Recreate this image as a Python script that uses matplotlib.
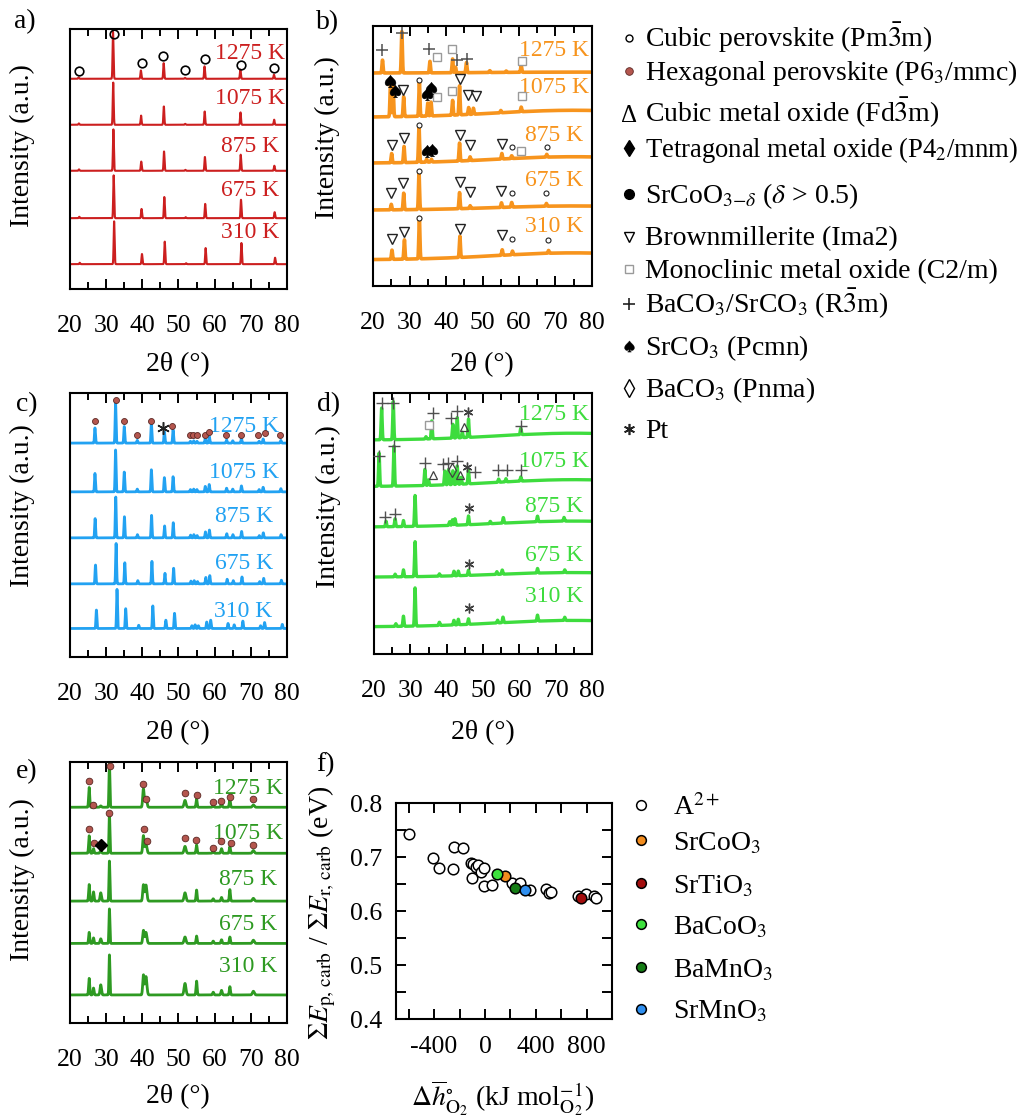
import numpy as np
import matplotlib
matplotlib.use("Agg")
import matplotlib.pyplot as plt
from matplotlib.ticker import MultipleLocator

plt.rcParams["font.family"] = ["Liberation Serif", "DejaVu Sans"]
plt.rcParams["mathtext.fontset"] = "stix"
plt.rcParams["axes.unicode_minus"] = False

W, H = 1030, 1118
UNIT_PX = 46.0
TWO_THETA = np.linspace(20, 80, 3001)

TEMPS = ["310 K", "675 K", "875 K", "1075 K", "1275 K"]

# ---------------- (a) ----------------
A_POS = [22.4, 31.9, 39.6, 45.9, 51.8, 57.2, 67.1, 76.4]
A_SHIFT = [0.30, 0.18, 0.10, 0.05, 0.00]
A_HT = {
    "310 K": [0.03, 0.93, 0.22, 0.49, 0.02, 0.35, 0.46, 0.14],
    "675 K": [0.03, 0.93, 0.20, 0.46, 0.02, 0.31, 0.40, 0.13],
    "875 K": [0.03, 0.90, 0.20, 0.42, 0.02, 0.30, 0.35, 0.11],
    "1075 K": [0.03, 0.92, 0.20, 0.40, 0.02, 0.29, 0.27, 0.11],
    "1275 K": [0.03, 1.02, 0.18, 0.34, 0.02, 0.27, 0.20, 0.09],
}
A_BASE = [0.54, 1.54, 2.57, 3.57, 4.57]
A_LBL_Y = [1.22, 2.15, 3.09, 4.15, 5.13]
A_CUBIC_X = [22.5, 32.2, 39.8, 45.8, 51.8, 57.3, 67.2, 76.3]
A_CUBIC_Y = [4.74, 5.54, 4.92, 5.07, 4.76, 5.00, 4.87, 4.81]

# ---------------- (b) ----------------
B_PEAKS = {
    "310 K": ([25.2, 28.6, 32.7, 43.8, 55.4, 58.2, 68.1],
              [0.20, 0.42, 0.90, 0.46, 0.12, 0.08, 0.06]),
    "675 K": ([25.0, 28.4, 32.6, 43.7, 46.6, 55.2, 58.0, 67.5],
              [0.12, 0.36, 0.80, 0.35, 0.06, 0.10, 0.10, 0.06]),
    "875 K": ([25.1, 28.5, 32.6, 34.7, 36.0, 43.7, 46.6, 55.3, 58.0, 67.6],
              [0.20, 0.35, 0.79, 0.06, 0.06, 0.39, 0.08, 0.12, 0.06, 0.06]),
    "1075 K": ([24.8, 25.5, 28.4, 32.7, 35.0, 35.9, 41.8, 43.7, 46.2, 47.5, 55.0, 60.6],
               [0.77, 0.68, 0.43, 0.76, 0.28, 0.30, 0.32, 0.63, 0.15, 0.13, 0.05, 0.10]),
    "1275 K": ([22.6, 27.9, 35.6, 41.8, 42.6, 45.6, 52.0, 56.5, 60.6],
               [0.28, 0.90, 0.25, 0.30, 0.12, 0.22, 0.04, 0.03, 0.15]),
}
B_BASE = [0.57, 1.65, 2.67, 3.67, 4.63]
B_HUMP = [0.15, 0.09, 0.14, 0.15, 0.02]
B_LBL_Y = [1.29, 2.30, 3.28, 4.32, 5.13]
B_TRI_X = [25.1, 28.5, 43.8, 55.3, 24.8, 28.3, 43.7, 46.6, 55.1,
           25.1, 28.5, 43.7, 46.6, 55.3, 28.3, 43.7, 46.1, 48.2]
B_TRI_Y = [1.02, 1.18, 1.25, 1.11, 2.03, 2.25, 2.27, 2.05, 2.07,
           3.07, 3.21, 3.28, 3.07, 3.09, 4.26, 4.49, 4.15, 4.13]
B_CIRC_X = [32.6, 58.2, 68.0, 32.6, 58.0, 67.4, 32.6, 58.0, 67.6, 32.7]
B_CIRC_Y = [1.47, 1.02, 1.00, 2.50, 2.03, 2.02, 3.50, 3.03, 3.03, 4.48]
B_SPADE_X = [34.7, 36.3, 24.7, 26.0, 34.7, 35.9]
B_SPADE_Y = [2.94, 2.96, 4.46, 4.24, 4.17, 4.30]
B_SQ_X = [60.5, 37.4, 41.6, 60.7, 37.4, 41.6, 60.7]
B_SQ_Y = [2.94, 4.10, 4.24, 4.12, 4.97, 5.15, 4.90]
B_PLUS_X = [22.6, 27.9, 35.4, 43.1, 45.7]
B_PLUS_Y = [5.12, 5.51, 5.15, 4.91, 4.93]

# ---------------- (c) ----------------
C_POS = [26.9, 32.6, 35.0, 38.6, 42.5, 46.1, 48.5, 53.3, 54.2, 55.1,
         57.4, 58.5, 63.3, 65.0, 67.4, 72.3, 73.4, 78.3]
C_SHIFT = [0.40, 0.15, 0.05, 0.00, 0.00]
C_HT = {
    "310 K": [0.40, 0.85, 0.43, 0.07, 0.49, 0.18, 0.33, 0.06, 0.08, 0.06,
              0.14, 0.18, 0.11, 0.08, 0.16, 0.06, 0.13, 0.09],
    "675 K": [0.41, 0.88, 0.46, 0.07, 0.49, 0.23, 0.34, 0.06, 0.07, 0.05,
              0.14, 0.18, 0.10, 0.07, 0.15, 0.05, 0.12, 0.08],
    "875 K": [0.42, 0.89, 0.46, 0.07, 0.49, 0.26, 0.33, 0.06, 0.07, 0.05,
              0.13, 0.17, 0.09, 0.07, 0.14, 0.05, 0.11, 0.07],
    "1075 K": [0.40, 0.91, 0.43, 0.06, 0.48, 0.31, 0.33, 0.05, 0.06, 0.05,
               0.12, 0.16, 0.08, 0.06, 0.13, 0.05, 0.10, 0.07],
    "1275 K": [0.33, 0.87, 0.36, 0.06, 0.43, 0.25, 0.29, 0.04, 0.05, 0.04,
               0.10, 0.15, 0.07, 0.05, 0.10, 0.04, 0.09, 0.06],
}
C_BASE = [0.62, 1.59, 2.59, 3.59, 4.65]
C_LBL_Y = [0.98, 2.04, 3.05, 4.01, 5.01]
C_HEX_X = [26.9, 32.6, 35.0, 38.6, 42.3, 48.3, 53.2, 54.1, 55.0, 57.3,
           58.5, 63.1, 67.2, 72.1, 73.9, 78.2]
C_HEX_Y = [5.12, 5.59, 5.12, 4.83, 5.12, 5.03, 4.83, 4.83, 4.83, 4.83,
           4.90, 4.83, 4.83, 4.83, 4.86, 4.83]
C_PT_X = [45.8]
C_PT_Y = [4.97]

# ---------------- (d) ----------------
D_PEAKS = {
    "310 K": ([26.0, 28.1, 31.3, 38.0, 42.0, 43.2, 46.0, 54.0, 55.5, 65.0, 72.5],
              [0.06, 0.22, 0.83, 0.07, 0.10, 0.12, 0.12, 0.06, 0.12, 0.13, 0.07]),
    "675 K": ([25.8, 28.1, 31.3, 38.0, 42.0, 43.2, 46.0, 53.8, 55.3, 65.0, 72.5],
              [0.06, 0.15, 0.76, 0.05, 0.10, 0.10, 0.11, 0.06, 0.09, 0.10, 0.06]),
    "875 K": ([23.3, 25.8, 28.1, 31.3, 40.8, 41.6, 42.3, 46.0, 52.0, 55.6, 65.0, 72.3],
              [0.12, 0.17, 0.13, 0.67, 0.08, 0.12, 0.14, 0.19, 0.05, 0.12, 0.12, 0.08]),
    "1075 K": ([21.4, 25.5, 34.0, 35.0, 39.5, 40.5, 41.7, 42.9, 44.0, 46.0, 54.3, 56.3, 60.4],
               [0.72, 0.87, 0.35, 0.12, 0.30, 0.33, 0.30, 0.40, 0.15, 0.30, 0.07, 0.07, 0.09]),
    "1275 K": ([22.1, 25.3, 34.3, 35.9, 41.7, 42.9, 44.3, 46.0, 60.4],
               [0.69, 0.83, 0.05, 0.39, 0.30, 0.44, 0.12, 0.40, 0.14]),
}
D_BASE = [0.59, 1.67, 2.76, 3.64, 4.65]
D_HUMP = [0.14, 0.10, 0.13, 0.15, 0.15]
D_LBL_Y = [1.25, 2.15, 3.20, 4.18, 5.20]
D_PLUS_X = [23.0, 25.8, 21.4, 25.5, 34.0, 39.1, 40.5, 42.9, 47.8, 54.2,
            56.5, 60.4, 22.1, 25.3, 36.2, 41.2, 42.9, 60.4]
D_PLUS_Y = [2.97, 3.04, 4.30, 4.52, 4.16, 4.13, 4.16, 4.20, 3.96, 4.01,
            4.01, 4.01, 5.45, 5.46, 5.23, 5.12, 5.29, 4.96]
D_TRI_X = [36.2, 43.7, 44.9]
D_TRI_Y = [3.89, 3.89, 4.94]
D_SQ_X = [35.2]
D_SQ_Y = [4.98]
D_LOZ_X = [41.4]
D_LOZ_Y = [4.01]
D_PT_X = [46.1, 46.1, 46.1, 45.7, 45.8]
D_PT_Y = [0.99, 1.96, 3.18, 4.07, 5.25]

# ---------------- (e) ----------------
E_POS = [25.3, 26.5, 28.5, 30.9, 40.3, 41.0, 51.8, 55.0, 59.6, 61.9, 64.2, 70.7]
E_FWHM = [0.35, 0.35, 0.45, 0.30, 0.45, 0.60, 0.60, 0.35, 0.40, 0.40, 0.35, 0.60]
E_HT = {
    "310 K": [0.36, 0.15, 0.22, 0.87, 0.43, 0.40, 0.25, 0.30, 0.06, 0.10, 0.18, 0.08],
    "675 K": [0.24, 0.12, 0.10, 0.75, 0.28, 0.24, 0.14, 0.16, 0.05, 0.08, 0.14, 0.07],
    "875 K": [0.36, 0.20, 0.18, 0.87, 0.35, 0.35, 0.18, 0.24, 0.05, 0.08, 0.25, 0.06],
    "1075 K": [0.38, 0.10, 0.06, 0.86, 0.38, 0.20, 0.15, 0.18, 0.05, 0.10, 0.15, 0.06],
    "1275 K": [0.43, 0.08, 0.03, 0.96, 0.40, 0.20, 0.15, 0.18, 0.05, 0.08, 0.18, 0.05],
}
E_BASE = [0.61, 1.73, 2.65, 3.69, 4.69]
E_LBL_Y = [1.22, 2.15, 3.12, 4.12, 5.10]
E_HEX_X = [25.3, 26.7, 30.9, 40.5, 41.2, 51.8, 54.8, 59.6, 61.7, 64.5, 70.7,
           25.3, 26.4, 31.1, 40.3, 41.0, 51.8, 55.0, 59.6, 61.7, 64.2, 70.5]
E_HEX_Y = [4.22, 3.91, 4.57, 4.22, 3.96, 4.02, 3.98, 3.81, 3.96, 3.91, 3.88,
           5.25, 4.75, 5.59, 5.19, 4.86, 5.01, 4.96, 4.80, 4.83, 4.91, 4.86]
E_TET_X = [28.6]
E_TET_Y = [3.87]

# ---------------- (f) ----------------
F_A2_X = [-600, -410, -358, -252, -240, -175, -112, -91, -70, -52, -30, -8,
          -104, -8, 52, 216, 278, 356, 481, 501, 519, 732, 797, 857, 875]
F_A2_Y = [0.742, 0.699, 0.679, 0.677, 0.718, 0.717, 0.689, 0.687, 0.682, 0.685,
          0.672, 0.679, 0.662, 0.646, 0.648, 0.652, 0.651, 0.639, 0.640, 0.633,
          0.635, 0.627, 0.631, 0.628, 0.625]
F_NAMES = ["SrCoO$_3$", "SrTiO$_3$", "BaCoO$_3$", "BaMnO$_3$", "SrMnO$_3$"]
F_X = [156, 753, 91, 237, 317]
F_Y = [0.665, 0.625, 0.668, 0.642, 0.638]
F_COLORS = ["#f28c1e", "#a30d0d", "#3ee23e", "#157d15", "#2f8ff0"]

HEX_FC, HEX_EC = "#b4564e", "#5a2723"

fig = plt.figure(figsize=(W / 100, H / 100), dpi=100)


def px_axes(l, t, r, b):
    return fig.add_axes([l / W, 1 - b / H, (r - l) / W, (b - t) / H])


def profile(pos, hts, fwhm):
    y = np.zeros_like(TWO_THETA)
    fw = np.broadcast_to(np.asarray(fwhm, float), (len(pos),))
    for p, h, w in zip(pos, hts, fw):
        y += h * np.exp(-4 * np.log(2) * ((TWO_THETA - p) / w) ** 2)
    return y


def hump(h):
    return h * np.exp(-4 * np.log(2) * ((TWO_THETA - 75.0) / 50.0) ** 2)


def xrd_axes(box):
    ax = px_axes(*box)
    ax.set_xlim(20, 80)
    ax.set_ylim(0, (box[3] - box[1]) / UNIT_PX)
    ax.xaxis.set_major_locator(MultipleLocator(10))
    ax.xaxis.set_minor_locator(MultipleLocator(5))
    ax.tick_params(axis="x", which="both", direction="in", top=True,
                   bottom=True, width=1.4, labelsize=18.5, pad=19)
    ax.tick_params(axis="x", which="major", length=7)
    ax.tick_params(axis="x", which="minor", length=5)
    ax.set_yticks([])
    for s in ax.spines.values():
        s.set_linewidth(1.5)
    return ax


def temp_labels(ax, xc, ys, color):
    for t, y in zip(TEMPS, ys):
        ax.text(xc, y, t, ha="center", va="center", fontsize=17, color=color)


def mk(ax, xs, ys, **kw):
    ax.plot(xs, ys, linestyle="none", clip_on=False, zorder=4, **kw)


# (a)
RED = "#cc1f1f"
ax = xrd_axes((70, 29, 287, 289))
for i, t in enumerate(TEMPS):
    pos = np.asarray(A_POS) + A_SHIFT[i]
    ax.plot(TWO_THETA, A_BASE[i] + profile(pos, A_HT[t], 0.30), color=RED, lw=1.5)
temp_labels(ax, 69.7, A_LBL_Y, RED)
mk(ax, A_CUBIC_X, A_CUBIC_Y, marker="o", ms=6.2, mfc="none", mec="k", mew=1.2)

# (b)
ORANGE = "#f7941d"
ax = xrd_axes((373, 26, 592, 286))
for i, t in enumerate(TEMPS):
    pos, hts = B_PEAKS[t]
    ax.plot(TWO_THETA, B_BASE[i] + hump(B_HUMP[i]) + profile(pos, hts, 0.35),
            color=ORANGE, lw=2.6)
temp_labels(ax, 69.7, B_LBL_Y, ORANGE)
mk(ax, B_TRI_X, B_TRI_Y, marker="v", ms=7.5, mfc="white", mec="#222222", mew=1.0)
mk(ax, B_CIRC_X, B_CIRC_Y, marker="o", ms=3.6, mfc="white", mec="#222222", mew=0.8)
mk(ax, B_SQ_X, B_SQ_Y, marker="s", ms=6.0, mfc="white", mec="#9a9a9a", mew=1.0)
mk(ax, B_PLUS_X, B_PLUS_Y, marker="+", ms=9, mec="#505050", mew=1.1)
mk(ax, B_SPADE_X, B_SPADE_Y, marker=r"$\spadesuit$", ms=9, mfc="k", mec="k", mew=0.3)

# (c)
BLUE = "#22a2f2"
ax = xrd_axes((70, 393, 287, 657))
for i, t in enumerate(TEMPS):
    pos = np.asarray(C_POS) + C_SHIFT[i]
    ax.plot(TWO_THETA, C_BASE[i] + profile(pos, C_HT[t], 0.30), color=BLUE, lw=2.0)
temp_labels(ax, 68.0, C_LBL_Y, BLUE)
mk(ax, C_HEX_X, C_HEX_Y, marker="o", ms=4.3, mfc=HEX_FC, mec=HEX_EC, mew=0.6)
mk(ax, C_PT_X, C_PT_Y, marker=(6, 2, 0), ms=9, mec="#222222", mew=1.1)

# (d)
LIME = "#3edc3e"
ax = xrd_axes((374, 393, 592, 654))
for i, t in enumerate(TEMPS):
    pos, hts = D_PEAKS[t]
    ax.plot(TWO_THETA, D_BASE[i] + hump(D_HUMP[i]) + profile(pos, hts, 0.35),
            color=LIME, lw=2.4)
temp_labels(ax, 69.6, D_LBL_Y, LIME)
mk(ax, D_PLUS_X, D_PLUS_Y, marker="+", ms=9, mec="#505050", mew=1.0)
mk(ax, D_TRI_X, D_TRI_Y, marker="^", ms=5.5, mfc="none", mec="#404040", mew=0.9)
mk(ax, D_SQ_X, D_SQ_Y, marker="s", ms=5.5, mfc="white", mec="#9a9a9a", mew=1.0)
mk(ax, D_LOZ_X, D_LOZ_Y, marker="d", ms=7, mfc="none", mec="#404040", mew=0.9)
mk(ax, D_PT_X, D_PT_Y, marker=(6, 2, 0), ms=7, mec="#404040", mew=1.0)

# (e)
GREEN = "#2e9a22"
ax = xrd_axes((70, 762, 287, 1023))
for i, t in enumerate(TEMPS):
    ax.plot(TWO_THETA, E_BASE[i] + profile(E_POS, E_HT[t], E_FWHM), color=GREEN, lw=2.0)
temp_labels(ax, 69.2, E_LBL_Y, GREEN)
mk(ax, E_HEX_X, E_HEX_Y, marker="o", ms=4.8, mfc=HEX_FC, mec=HEX_EC, mew=0.6)
mk(ax, E_TET_X, E_TET_Y, marker="D", ms=6, mfc="k", mec="k")

# (f)
axf = px_axes(396, 803, 612, 1019)
axf.set_xlim(-700, 1000)
axf.set_ylim(0.4, 0.8)
axf.xaxis.set_major_locator(MultipleLocator(400))
axf.xaxis.set_minor_locator(MultipleLocator(200))
axf.yaxis.set_major_locator(MultipleLocator(0.1))
axf.yaxis.set_minor_locator(MultipleLocator(0.05))
axf.tick_params(which="both", direction="in", top=True, right=True, length=7,
                width=1.4, labelsize=18.5)
axf.tick_params(axis="x", pad=12)
axf.tick_params(axis="y", pad=10)
for s in axf.spines.values():
    s.set_linewidth(1.5)
axf.scatter(F_A2_X, F_A2_Y, s=58, facecolor="white", edgecolor="k", linewidth=1.1, zorder=3)
for x, y, c in zip(F_X, F_Y, F_COLORS):
    axf.scatter([x], [y], s=58, facecolor=c, edgecolor="k", linewidth=1.1, zorder=4)

# ---------------- figure-level text and key ----------------
ov = fig.add_axes([0, 0, 1, 1])
ov.set_xlim(0, W)
ov.set_ylim(H, 0)
ov.axis("off")

for lbl, (x, y) in zip(["a)", "b)", "c)", "d)", "e)", "f)"],
                       [(25, 22), (328, 23), (27, 405), (329, 405), (27, 772), (325, 765)]):
    ov.text(x, y, lbl, ha="center", va="center", fontsize=20)

for x, y in [(22, 146), (327, 138), (22, 506), (328, 507), (22, 880)]:
    ov.text(x, y, "Intensity (a.u.)", rotation=90, ha="center", va="center", fontsize=20)

for x, y in [(178, 365), (482, 365), (178, 733), (483, 733), (178, 1097)]:
    ov.text(x, y, "2\u03b8 (\u00b0)", ha="center", va="center", fontsize=20)

ov.text(322, 913, r"$\Sigma E_{\mathrm{p,\,carb}}$ / $\Sigma E_{\mathrm{r,\,carb}}$ (eV)",
        rotation=90, ha="center", va="center", fontsize=20)
ov.text(503, 1098, r"$\Delta\overline{h}^{\circ}_{\mathrm{O_2}}$ (kJ mol$^{-1}_{\mathrm{O_2}}$)",
        ha="center", va="center", fontsize=20)

# phase key
KEY_TEXT = ["Cubic perovskite (Pm$\\bar{3}$m)",
            "Hexagonal perovskite (P6$_3$/mmc)",
            "Cubic metal oxide (Fd$\\bar{3}$m)",
            "Tetragonal metal oxide (P4$_2$/mnm)",
            "SrCoO$_{3\\mathrm{-}\\delta}$ ($\\delta$ > 0.5)",
            "Brownmillerite (Ima2)",
            "Monoclinic metal oxide (C2/m)",
            "BaCO$_3$/SrCO$_3$ (R$\\bar{3}$m)",
            "SrCO$_3$ (Pcmn)",
            "BaCO$_3$ (Pnma)",
            "Pt"]
KEY_SIZE = [20, 20, 20, 19.2, 20, 20, 20, 20, 20, 20, 20]
KEY_BASELINE = [47, 80, 122, 157, 203, 245, 278, 313, 355, 397, 438]
key_x, text_x = 629, 645
for txt, fs, yb in zip(KEY_TEXT, KEY_SIZE, KEY_BASELINE):
    ov.text(text_x, yb, txt, ha="left", va="baseline", fontsize=fs)
ym = [b - 9 for b in KEY_BASELINE]
ov.plot([key_x], [ym[0]], "o", ms=5, mfc="white", mec="k", mew=1.0)
ov.plot([key_x], [ym[1]], "o", ms=5.5, mfc=HEX_FC, mec=HEX_EC, mew=0.6)
ov.text(key_x, KEY_BASELINE[2], "\u0394", ha="center", va="baseline", fontsize=18)
ov.plot([key_x], [ym[3]], "d", ms=8, mfc="k", mec="k")
ov.plot([key_x], [ym[4]], "o", ms=7, mfc="k", mec="k")
ov.plot([key_x], [ym[5] + 1], "v", ms=6.5, mfc="white", mec="k", mew=1.0)
ov.plot([key_x], [ym[6]], "s", ms=6, mfc="white", mec="#9a9a9a", mew=1.0)
ov.plot([key_x], [ym[7]], "+", ms=9, mec="#222222", mew=1.2)
ov.plot([key_x], [ym[8]], marker=r"$\spadesuit$", ms=8, mfc="k", mec="k", mew=0.3)
ov.plot([key_x], [ym[9]], "d", ms=9, mfc="white", mec="k", mew=1.0)
ov.plot([key_x], [ym[10]], marker=(6, 2, 0), ms=8, mec="#222222", mew=1.2)

# key for (f)
F_KEY_Y = [805, 840, 883, 924, 967, 1009]
F_KEY_BASE = [815, 850, 893, 934, 977, 1018]
ov.plot([641], [F_KEY_Y[0]], "o", ms=7, mfc="white", mec="k", mew=1.1)
ov.text(673, F_KEY_BASE[0], "A$^{2+}$", ha="left", va="baseline", fontsize=20)
for name, c, ym_, yb in zip(F_NAMES, F_COLORS, F_KEY_Y[1:], F_KEY_BASE[1:]):
    ov.plot([641], [ym_], "o", ms=7, mfc=c, mec="k", mew=1.1)
    ov.text(673, yb, name, ha="left", va="baseline", fontsize=20)

fig.savefig("out.png", dpi=100)
